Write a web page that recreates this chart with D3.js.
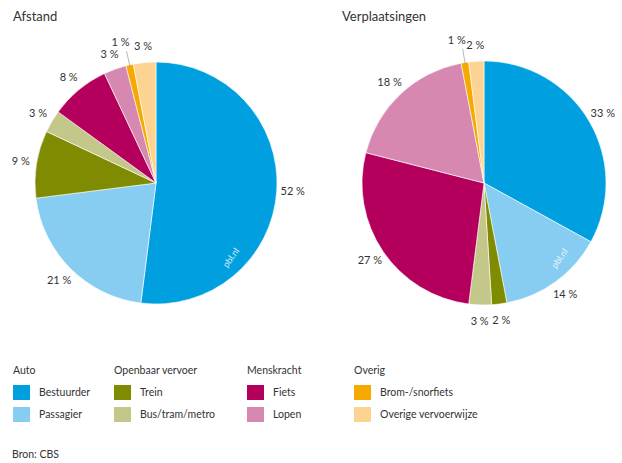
<!DOCTYPE html>
<html>
<head>
<meta charset="utf-8">
<script src="https://cdn.jsdelivr.net/npm/d3@7"></script>
<style>
  body { margin: 0; background: #fff; }
  svg text { font-family: Lato, "Open Sans", sans-serif; fill: #333; }
</style>
</head>
<body>
<div class="container"></div>
<script>
var w = 622;
var h = 463;

// categories, clockwise from the top
var modes = ["Bestuurder", "Passagier", "Trein", "Bus/tram/metro", "Fiets", "Lopen", "Brom-/snorfiets", "Overige vervoerwijze"];
var colors = ["#009fe0", "#86cdf1", "#7f8b00", "#c4c78a", "#b4005c", "#d688b1", "#f6a900", "#fdd391"];
var afstand = [52, 21, 9, 3, 8, 3, 1, 3];
var verplaatsingen = [33, 14, 2, 3, 27, 18, 1, 2];
var chartTitles = ["Afstand", "Verplaatsingen"];

var groups = ["Auto", "Openbaar vervoer", "Menskracht", "Overig"];
var source = "Bron: CBS";

var svg = d3.select('.container')
  .append('svg')
  .attr('width', w)
  .attr('height', h);

var color = d3.scaleOrdinal().domain(modes).range(colors);
var pie = d3.pie().sort(null).value(function(d) { return d.v; });

function drawPie(values, title, cx, cy, r, tx) {
  svg.append('text')
    .attr('x', tx)
    .attr('y', 21)
    .style('font-size', '13px')
    .text(title);

  var g = svg.append('g').attr('transform', 'translate(' + cx + ',' + cy + ')');
  var data = values.map(function(v, i) { return { name: modes[i], v: v }; });
  var arcs = pie(data);
  var arc = d3.arc().innerRadius(0).outerRadius(r);

  g.selectAll('path')
    .data(arcs)
    .enter()
    .append('path')
    .attr('d', arc)
    .style('fill', function(d) { return color(d.data.name); })
    .style('stroke', '#fff')
    .style('stroke-width', 0.6);

  var lr = r + 16;
  arcs.forEach(function(d) {
    var a = (d.startAngle + d.endAngle) / 2;
    var sx = Math.sin(a), sy = -Math.cos(a);
    var label = d.data.v + ' %';
    if (d.data.v <= 1) {
      // tiny slice: leader line, label above and to the left
      var ex = sx * (r + 14), ey = sy * (r + 14);
      g.append('line')
        .attr('x1', sx * (r - 2)).attr('y1', sy * (r - 2))
        .attr('x2', ex).attr('y2', ey)
        .style('stroke', '#999').style('stroke-width', 0.7);
      g.append('text')
        .attr('x', ex + 3)
        .attr('y', ey - 5)
        .attr('text-anchor', 'end')
        .style('font-size', '11px')
        .text(label);
    } else {
      g.append('text')
        .attr('x', sx * lr)
        .attr('y', sy * lr)
        .attr('dy', '0.35em')
        .attr('text-anchor', 'middle')
        .style('font-size', '11px')
        .text(label);
    }
  });

  // watermark
  var wa = 2.35;
  g.append('text')
    .attr('transform', 'translate(' + (Math.sin(wa) * r * 0.9) + ',' + (-Math.cos(wa) * r * 0.9) + ') rotate(-55)')
    .attr('text-anchor', 'middle')
    .style('font-size', '9px')
    .style('fill', '#fff')
    .style('opacity', 0.85)
    .text('pbl.nl');
}

drawPie(afstand, chartTitles[0], 156, 183, 121, 13);
drawPie(verplaatsingen, chartTitles[1], 484, 183, 122, 342);

// legend
var colX = [13, 114, 247, 354];
var legend = svg.append('g').attr('id', 'legend');
groups.forEach(function(gname, gi) {
  var x = colX[gi];
  legend.append('text')
    .attr('x', x)
    .attr('y', 374)
    .style('font-size', '10.5px')
    .text(gname);
  [0, 1].forEach(function(j) {
    var k = gi * 2 + j;
    var y = 385 + j * 22;
    legend.append('rect')
      .attr('x', x)
      .attr('y', y)
      .attr('width', 17)
      .attr('height', 15)
      .style('fill', colors[k]);
    legend.append('text')
      .attr('x', x + 26)
      .attr('y', y + 11)
      .style('font-size', '10.5px')
      .text(modes[k]);
  });
});

svg.append('text')
  .attr('x', 12)
  .attr('y', 458)
  .style('font-size', '10.5px')
  .text(source);
</script>
</body>
</html>
